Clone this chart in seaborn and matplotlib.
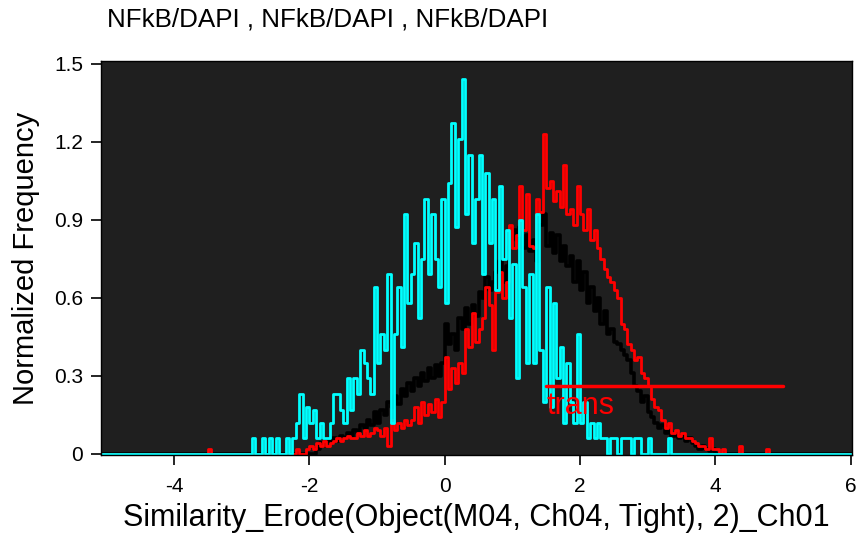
import numpy as np
import pandas as pd
import matplotlib
matplotlib.use("Agg")
import matplotlib.pyplot as plt
import seaborn as sns

# ---------------- data ----------------
bin_width = 0.05
x_range = (-5.10, 6.05)

cyan_start = -2.90
cyan_vals = [0, 0.06, 0, 0, 0.06, 0, 0.06, 0, 0.06, 0, 0, 0.06, 0, 0.06, 0.12, 0.23,
             0.06, 0.18, 0.12, 0.17, 0.06, 0.12, 0.06, 0.06, 0.12, 0.23, 0.23, 0.17,
             0.12, 0.29, 0.17, 0.29, 0.23, 0.40, 0.35, 0.29, 0.23, 0.64, 0.35, 0.46,
             0.40, 0.69, 0.12, 0.46, 0.64, 0.41, 0.92, 0.58, 0.69, 0.81, 0.52, 0.75,
             0.98, 0.69, 0.92, 0.75, 0.64, 0.98, 0.58, 1.04, 1.27, 0.87, 1.21, 1.44,
             0.92, 1.15, 0.81, 0.98, 1.15, 0.69, 1.08, 0.81, 0.98, 0.63, 1.03, 0.75,
             0.86, 0.52, 0.73, 0.29, 0.90, 0.64, 0.35, 0.69, 0.35, 0.92, 0.40, 0.20,
             0.64, 0.18, 0.58, 0.29, 0.41, 0.12, 0.35, 0.20, 0.12, 0.46, 0.12, 0.20,
             0.06, 0.12, 0.06, 0.12, 0.06, 0.06, 0, 0.06, 0.06, 0, 0.06, 0.06, 0.06,
             0, 0.06, 0.06, 0, 0, 0.06, 0, 0, 0, 0, 0, 0.06]

red_start = -2.20
red_vals = [0.02, 0, 0, 0.02, 0.03, 0.02, 0.04, 0.03, 0.05, 0.03, 0.04, 0.05, 0.06,
            0.05, 0.06, 0.07, 0.06, 0.06, 0.08, 0.07, 0.09, 0.07, 0.08, 0.10, 0.09,
            0.07, 0.10, 0.03, 0.13, 0.09, 0.12, 0.10, 0.13, 0.11, 0.13, 0.18, 0.12,
            0.20, 0.15, 0.19, 0.16, 0.21, 0.14, 0.20, 0.37, 0.25, 0.33, 0.27, 0.35,
            0.31, 0.48, 0.41, 0.54, 0.43, 0.48, 0.52, 0.64, 0.57, 0.40, 0.62, 0.70,
            0.60, 0.66, 0.88, 0.79, 0.84, 1.03, 0.86, 1.00, 0.80, 0.79, 0.98, 0.93,
            1.23, 1.02, 1.05, 0.97, 1.01, 0.95, 1.11, 0.92, 0.94, 0.88, 1.03, 0.92,
            0.86, 0.94, 0.82, 0.86, 0.79, 0.75, 0.71, 0.68, 0.66, 0.63, 0.60, 0.50,
            0.48, 0.42, 0.40, 0.36, 0.37, 0.31, 0.29, 0.26, 0.21, 0.18, 0.17, 0.13,
            0.10, 0.12, 0.08, 0.09, 0.07, 0.08, 0.06, 0.06, 0.05, 0.04, 0.03, 0.03,
            0.02, 0.06, 0.02, 0.02, 0, 0.02, 0, 0, 0, 0, 0.03, 0, 0, 0, 0, 0, 0, 0,
            0.02]
red_extra_x = [-3.50]
red_extra_vals = [0.02]

black_start = -1.90
black_vals = [0.02, 0.04, 0.03, 0.05, 0.04, 0.06, 0.05, 0.07, 0.06, 0.08, 0.07, 0.09,
              0.08, 0.11, 0.10, 0.13, 0.11, 0.16, 0.12, 0.17, 0.15, 0.20, 0.18, 0.22,
              0.19, 0.25, 0.22, 0.27, 0.24, 0.29, 0.26, 0.31, 0.28, 0.33, 0.29, 0.34,
              0.30, 0.35, 0.50, 0.42, 0.46, 0.40, 0.52, 0.48, 0.56, 0.50, 0.57, 0.53,
              0.62, 0.60, 0.68, 0.63, 0.66, 0.70, 0.74, 0.66, 0.72, 0.80, 0.86, 0.82,
              0.87, 0.79, 0.84, 0.78, 0.82, 0.74, 0.88, 0.92, 0.80, 0.85, 0.77, 0.84,
              0.74, 0.80, 0.72, 0.76, 0.66, 0.74, 0.63, 0.70, 0.58, 0.64, 0.55, 0.60,
              0.50, 0.55, 0.46, 0.48, 0.43, 0.42, 0.40, 0.38, 0.36, 0.31, 0.26, 0.24,
              0.20, 0.22, 0.16, 0.14, 0.12, 0.10, 0.11, 0.08, 0.09, 0.07, 0.08, 0.06,
              0.07, 0.05, 0.06, 0.04, 0.03, 0.02, 0.03, 0.02, 0.01, 0.02]

gate_label = "trans"
gate_x = [1.5, 5.0]
gate_y = 0.26

title = "NFkB/DAPI , NFkB/DAPI , NFkB/DAPI"
x_label = "Similarity_Erode(Object(M04, Ch04, Tight), 2)_Ch01"
y_label = "Normalized Frequency"
x_ticks = [-4, -2, 0, 2, 4, 6]
y_ticks = [0, 0.3, 0.6, 0.9, 1.2, 1.5]
y_tick_labels = ["0", "0.3", "0.6", "0.9", "1.2", "1.5"]

# ---------------- build histograms ----------------
edges = np.round(np.arange(x_range[0], x_range[1] + 1e-9, bin_width), 4)
centers = (edges[:-1] + edges[1:]) / 2
n_bins = len(edges) - 1


def full_series(start, vals, extra_x=(), extra_v=()):
    arr = np.zeros(len(centers))
    i0 = int(round((start - x_range[0]) / bin_width))
    arr[i0:i0 + len(vals)] = vals
    for ex, ev in zip(extra_x, extra_v):
        arr[int(round((ex - x_range[0]) / bin_width))] = ev
    return arr


frames = []
for name, s, v, ex, ev in [("black", black_start, black_vals, [], []),
                           ("red", red_start, red_vals, red_extra_x, red_extra_vals),
                           ("cyan", cyan_start, cyan_vals, [], [])]:
    frames.append(pd.DataFrame({"x": centers, "w": full_series(s, v, ex, ev), "series": name}))
df = pd.concat(frames, ignore_index=True)

# ---------------- plot ----------------
sns.set_style("ticks")
plt.rcParams["font.family"] = ["Liberation Sans", "DejaVu Sans"]
plt.rcParams.update({"text.color": "black", "axes.labelcolor": "black",
                     "xtick.color": "black", "ytick.color": "black",
                     "xtick.labelcolor": "black", "ytick.labelcolor": "black"})

fig = plt.figure(figsize=(8.59, 5.35), dpi=100)
ax = fig.add_axes([0.1176, 0.1495, 0.8742, 0.7365])
ax.set_facecolor("#1f1f1f")

colors = {"black": "#000000", "red": "#ff0000", "cyan": "#00ffff"}
widths = {"black": 2.6, "red": 2.0, "cyan": 2.0}
for name in ["black", "red", "cyan"]:
    sub = df[df["series"] == name]
    sns.histplot(data=sub, x="x", weights="w", bins=n_bins,
                 binrange=(float(edges[0]), float(edges[-1])), element="step",
                 fill=False, color=colors[name], linewidth=widths[name], ax=ax)

ax.plot(gate_x, [gate_y, gate_y], color="#ff0000", linewidth=2.5)
ax.text(gate_x[0], gate_y - 0.02, gate_label, color="#ff0000", fontsize=22,
        ha="left", va="top")

ax.set_xlim(-5.08, 6.02)
ax.set_ylim(-0.005, 1.51)
ax.set_xticks(x_ticks)
ax.set_xticklabels([str(t) for t in x_ticks])
ax.set_yticks(y_ticks)
ax.set_yticklabels(y_tick_labels)
ax.tick_params(axis="both", labelsize=15, length=7, width=1.2, color="black",
               labelcolor="black", direction="out")
ax.tick_params(axis="x", pad=9)
ax.tick_params(axis="y", pad=6)
for sp in ax.spines.values():
    sp.set_visible(True)
    sp.set_color("black")
    sp.set_linewidth(1)

ax.set_xlabel(x_label, fontsize=22, labelpad=5, color="black")
ax.set_ylabel(y_label, fontsize=21, labelpad=10, color="black")
fig.text(107 / 859, 1 - 20 / 535, title, fontsize=18.7, ha="left", va="center",
         color="black")

fig.savefig("out.png", dpi=100)
